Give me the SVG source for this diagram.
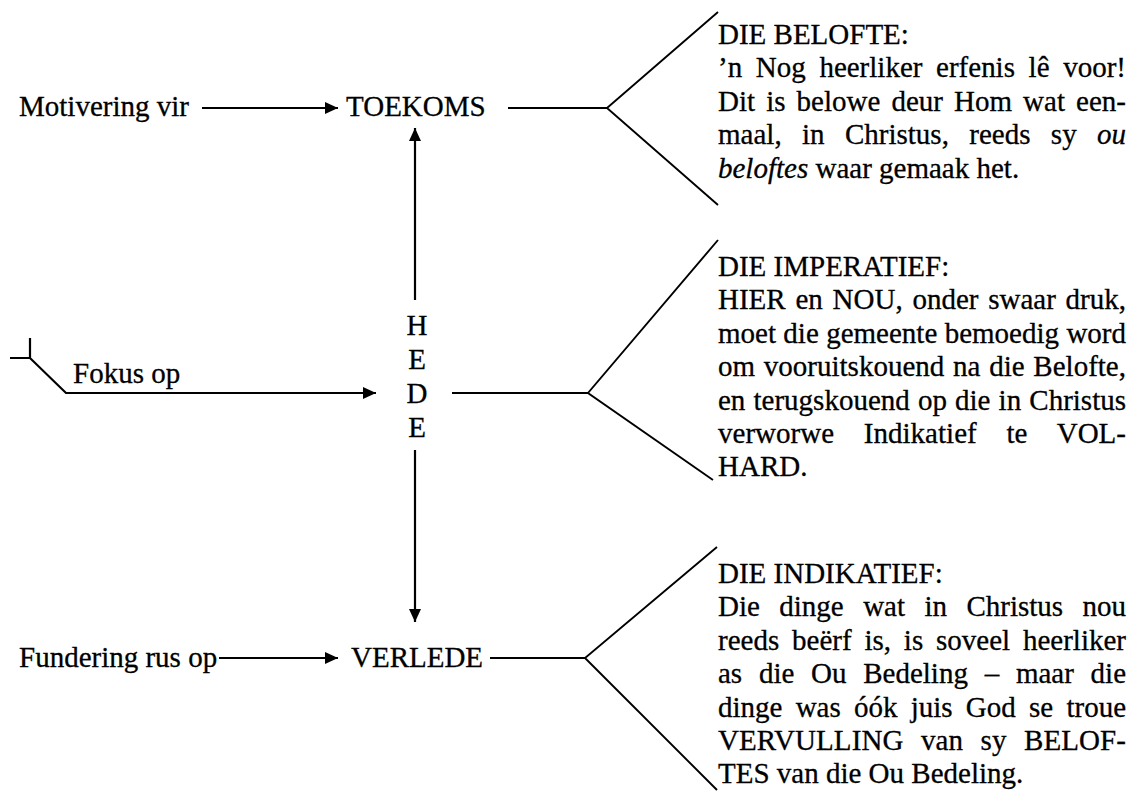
<svg xmlns="http://www.w3.org/2000/svg" width="1134" height="793" viewBox="0 0 1134 793">
<style>
text{font-family:"Liberation Serif","Times New Roman",serif;font-size:29px;fill:#000;stroke:#000;stroke-width:0.3}
.ln{stroke:#000;stroke-width:2.2;fill:none}
.arm{stroke:#000;stroke-width:1.9;fill:none}
.it{font-style:italic}
</style>
<defs>
<marker id="ah" markerUnits="userSpaceOnUse" markerWidth="14" markerHeight="13" refX="13" refY="6" orient="auto">
<path d="M0,0 L13,6 L0,12 z" fill="#000"/>
</marker>
</defs>
<rect width="1134" height="793" fill="#fff"/>
<g id="connectors">
<line class="ln" x1="202" y1="108" x2="338" y2="108" marker-end="url(#ah)"/>
<line class="ln" x1="508" y1="108" x2="607" y2="108"/>
<polyline class="arm" points="718,12 607,108 718,205"/>
<line class="ln" x1="415" y1="300" x2="415" y2="128" marker-end="url(#ah)"/>
<line class="ln" x1="415" y1="450" x2="415" y2="622" marker-end="url(#ah)"/>
<path class="ln" d="M30,338 L30,358 M10,358 L30,358 L66,393 L376,393" marker-end="url(#ah)"/>
<line class="ln" x1="452" y1="393" x2="588" y2="393"/>
<polyline class="arm" points="718,240 588,393 713,480"/>
<line class="ln" x1="219" y1="658" x2="338" y2="658" marker-end="url(#ah)"/>
<line class="ln" x1="490" y1="658" x2="585" y2="658"/>
<polyline class="arm" points="717,547 585,658 717,790"/>
</g>
<g id="motivering"><text x="19" y="116">Motivering vir</text></g>
<g id="toekoms"><text x="346" y="116">TOEKOMS</text></g>
<g id="fokus"><text x="73" y="383">Fokus op</text></g>
<g id="hede">
<text x="417" y="335" text-anchor="middle">H</text>
<text x="417" y="369" text-anchor="middle">E</text>
<text x="417" y="403" text-anchor="middle">D</text>
<text x="417" y="437" text-anchor="middle">E</text>
</g>
<g id="fundering"><text x="19" y="667">Fundering rus op</text></g>
<g id="verlede"><text x="351" y="667">VERLEDE</text></g>
<g id="belofte">
<text x="718" y="44">DIE BELOFTE:</text>
<text x="718" y="77.4" word-spacing="6.4" textLength="408" lengthAdjust="spacing">’n Nog heerliker erfenis lê voor!</text>
<text x="718" y="110.8" word-spacing="3.8" textLength="408" lengthAdjust="spacing">Dit is belowe deur Hom wat een-</text>
<text x="718" y="144.2" word-spacing="13.1" textLength="408" lengthAdjust="spacing">maal, in Christus, reeds sy <tspan class="it">ou</tspan></text>
<text x="718" y="177.6"><tspan class="it">beloftes</tspan> waar gemaak het.</text>
</g>
<g id="imperatief">
<text x="718" y="276">DIE IMPERATIEF:</text>
<text x="718" y="309.4" word-spacing="2.5" textLength="408" lengthAdjust="spacing">HIER en NOU, onder swaar druk,</text>
<text x="718" y="342.8" word-spacing="0.1" textLength="408" lengthAdjust="spacing">moet die gemeente bemoedig word</text>
<text x="718" y="376.2" word-spacing="1.5" textLength="408" lengthAdjust="spacing">om vooruitskouend na die Belofte,</text>
<text x="718" y="409.6" word-spacing="0.9" textLength="408" lengthAdjust="spacing">en terugskouend op die in Christus</text>
<text x="718" y="443" word-spacing="22.5" textLength="408" lengthAdjust="spacing">verworwe Indikatief te VOL-</text>
<text x="718" y="476.4">HARD.</text>
</g>
<g id="indikatief">
<text x="718" y="583">DIE INDIKATIEF:</text>
<text x="718" y="616.4" word-spacing="12.2" textLength="408" lengthAdjust="spacing">Die dinge wat in Christus nou</text>
<text x="718" y="649.8" word-spacing="5.6" textLength="408" lengthAdjust="spacing">reeds beërf is, is soveel heerliker</text>
<text x="718" y="683.2" word-spacing="9.5" textLength="408" lengthAdjust="spacing">as die Ou Bedeling – maar die</text>
<text x="718" y="716.6" word-spacing="6" textLength="408" lengthAdjust="spacing">dinge was óók juis God se troue</text>
<text x="718" y="750" word-spacing="10.1" textLength="408" lengthAdjust="spacing">VERVULLING van sy BELOF-</text>
<text x="718" y="783.4">TES van die Ou Bedeling.</text>
</g>
</svg>
